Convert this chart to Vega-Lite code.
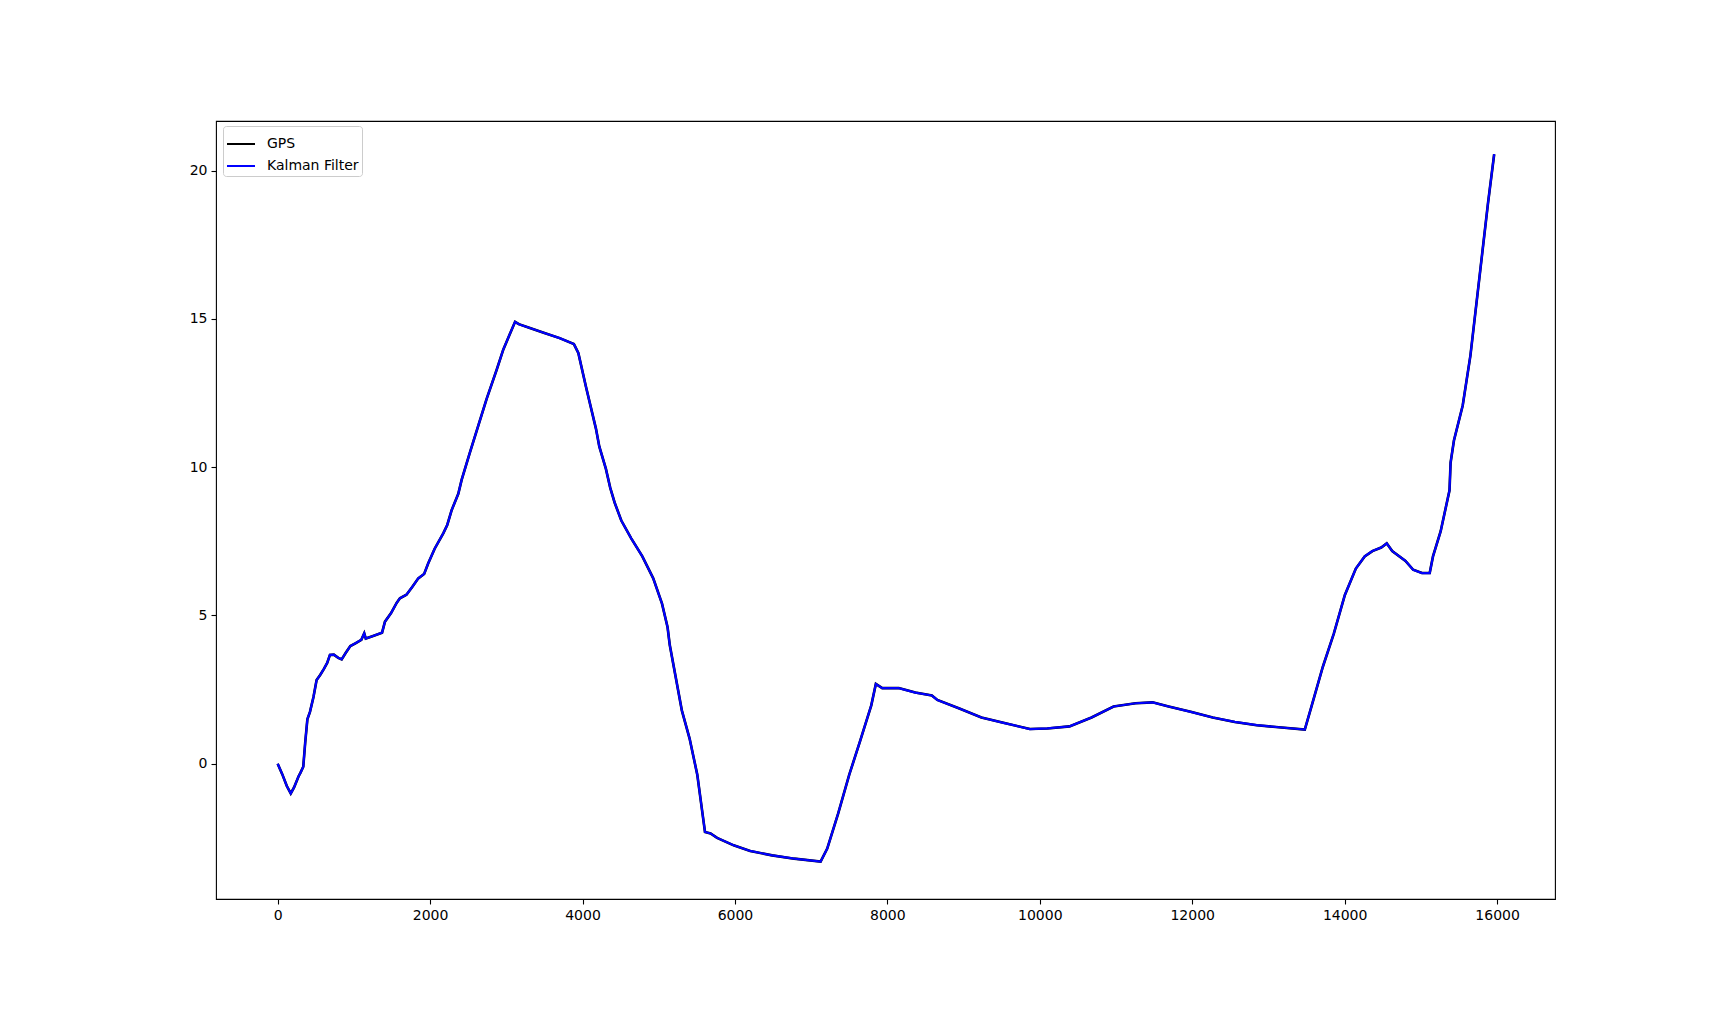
{
  "$schema": "https://vega.github.io/schema/vega-lite/v6.json",
  "width": 1339,
  "height": 778,
  "autosize": {"type": "none"},
  "padding": {"left": 216, "top": 121, "right": 173, "bottom": 111},
  "background": "white",
  "config": {
    "view": {"stroke": "black", "strokeWidth": 1.1},
    "font": "DejaVu Sans",
    "axis": {
      "domain": false,
      "grid": false,
      "tickColor": "black",
      "tickSize": 5,
      "tickWidth": 1.1,
      "labelFont": "DejaVu Sans",
      "labelFontSize": 14,
      "labelColor": "black",
      "labelPadding": 4,
      "title": null
    },
    "legend": {
      "orient": "none",
      "legendX": 7,
      "legendY": 5,
      "title": null,
      "symbolType": "stroke",
      "symbolSize": 784,
      "symbolStrokeWidth": 2,
      "labelFont": "DejaVu Sans",
      "labelFontSize": 14,
      "labelColor": "black",
      "labelOffset": 11,
      "strokeColor": "#cccccc",
      "fillColor": "white",
      "cornerRadius": 3,
      "padding": 3,
      "rowPadding": 0
    }
  },
  "datasets": {
    "track": [
      {"x": 0, "y": 0.0}, {"x": 60, "y": -0.35}, {"x": 120, "y": -0.75}, {"x": 172, "y": -1.0},
      {"x": 215, "y": -0.8}, {"x": 275, "y": -0.42}, {"x": 300, "y": -0.3}, {"x": 336, "y": -0.1},
      {"x": 361, "y": 0.7}, {"x": 390, "y": 1.5}, {"x": 424, "y": 1.75}, {"x": 470, "y": 2.25},
      {"x": 511, "y": 2.82}, {"x": 560, "y": 3.0}, {"x": 607, "y": 3.2}, {"x": 650, "y": 3.4},
      {"x": 686, "y": 3.67}, {"x": 737, "y": 3.68}, {"x": 795, "y": 3.57}, {"x": 840, "y": 3.52},
      {"x": 896, "y": 3.75}, {"x": 954, "y": 3.97}, {"x": 1026, "y": 4.07}, {"x": 1098, "y": 4.18},
      {"x": 1136, "y": 4.4}, {"x": 1156, "y": 4.22}, {"x": 1243, "y": 4.3}, {"x": 1370, "y": 4.42},
      {"x": 1408, "y": 4.79}, {"x": 1488, "y": 5.08}, {"x": 1561, "y": 5.42}, {"x": 1604, "y": 5.58},
      {"x": 1690, "y": 5.7}, {"x": 1763, "y": 5.95}, {"x": 1845, "y": 6.25}, {"x": 1922, "y": 6.4},
      {"x": 1976, "y": 6.76}, {"x": 2060, "y": 7.25}, {"x": 2173, "y": 7.77}, {"x": 2225, "y": 8.05},
      {"x": 2283, "y": 8.55}, {"x": 2370, "y": 9.1}, {"x": 2414, "y": 9.57}, {"x": 2523, "y": 10.5},
      {"x": 2742, "y": 12.3}, {"x": 2876, "y": 13.3}, {"x": 2960, "y": 13.96}, {"x": 3040, "y": 14.45},
      {"x": 3115, "y": 14.9}, {"x": 3165, "y": 14.82}, {"x": 3300, "y": 14.7}, {"x": 3500, "y": 14.52},
      {"x": 3700, "y": 14.35}, {"x": 3887, "y": 14.15}, {"x": 3945, "y": 13.85}, {"x": 4046, "y": 12.7},
      {"x": 4176, "y": 11.3}, {"x": 4220, "y": 10.7}, {"x": 4306, "y": 9.95}, {"x": 4364, "y": 9.3},
      {"x": 4422, "y": 8.8}, {"x": 4509, "y": 8.2}, {"x": 4639, "y": 7.6}, {"x": 4783, "y": 7.0},
      {"x": 4928, "y": 6.25}, {"x": 5043, "y": 5.4}, {"x": 5116, "y": 4.6}, {"x": 5145, "y": 4.0},
      {"x": 5217, "y": 3.0}, {"x": 5303, "y": 1.8}, {"x": 5405, "y": 0.85}, {"x": 5506, "y": -0.37},
      {"x": 5578, "y": -1.75}, {"x": 5607, "y": -2.3}, {"x": 5680, "y": -2.35}, {"x": 5766, "y": -2.5},
      {"x": 5983, "y": -2.75}, {"x": 6200, "y": -2.94}, {"x": 6488, "y": -3.09}, {"x": 6777, "y": -3.2},
      {"x": 7124, "y": -3.3}, {"x": 7211, "y": -2.86}, {"x": 7355, "y": -1.67}, {"x": 7500, "y": -0.37},
      {"x": 7644, "y": 0.78}, {"x": 7789, "y": 1.97}, {"x": 7849, "y": 2.69}, {"x": 7933, "y": 2.55},
      {"x": 8150, "y": 2.55}, {"x": 8367, "y": 2.4}, {"x": 8584, "y": 2.3}, {"x": 8656, "y": 2.15},
      {"x": 8945, "y": 1.86}, {"x": 9234, "y": 1.56}, {"x": 9523, "y": 1.38}, {"x": 9870, "y": 1.17},
      {"x": 10100, "y": 1.19}, {"x": 10390, "y": 1.26}, {"x": 10679, "y": 1.56}, {"x": 10968, "y": 1.93},
      {"x": 11257, "y": 2.04}, {"x": 11480, "y": 2.07}, {"x": 11690, "y": 1.93}, {"x": 11980, "y": 1.75},
      {"x": 12269, "y": 1.56}, {"x": 12558, "y": 1.41}, {"x": 12847, "y": 1.3}, {"x": 13136, "y": 1.23},
      {"x": 13477, "y": 1.15}, {"x": 13569, "y": 1.97}, {"x": 13714, "y": 3.27}, {"x": 13858, "y": 4.39},
      {"x": 14003, "y": 5.69}, {"x": 14147, "y": 6.58}, {"x": 14263, "y": 6.99}, {"x": 14364, "y": 7.17},
      {"x": 14480, "y": 7.29}, {"x": 14552, "y": 7.43}, {"x": 14624, "y": 7.17}, {"x": 14798, "y": 6.84},
      {"x": 14899, "y": 6.54}, {"x": 15014, "y": 6.43}, {"x": 15116, "y": 6.43}, {"x": 15159, "y": 6.99},
      {"x": 15260, "y": 7.84}, {"x": 15376, "y": 9.22}, {"x": 15390, "y": 10.15}, {"x": 15434, "y": 10.9},
      {"x": 15549, "y": 12.08}, {"x": 15650, "y": 13.76}, {"x": 15780, "y": 16.65}, {"x": 15881, "y": 18.9},
      {"x": 15962, "y": 20.55}
    ]
  },
  "data": {"name": "track"},
  "encoding": {
    "x": {
      "field": "x",
      "type": "quantitative",
      "scale": {"domain": [-809, 16760], "nice": false, "zero": false},
      "axis": {"values": [0, 2000, 4000, 6000, 8000, 10000, 12000, 14000, 16000], "format": "d"}
    },
    "y": {
      "field": "y",
      "type": "quantitative",
      "scale": {"domain": [-4.56, 21.67], "nice": false, "zero": false},
      "axis": {"values": [0, 5, 10, 15, 20], "format": "d"}
    }
  },
  "layer": [
    {
      "mark": {"type": "line", "strokeWidth": 2.6},
      "encoding": {
        "color": {
          "datum": "GPS",
          "type": "nominal",
          "scale": {"domain": ["GPS", "Kalman Filter"], "range": ["black", "blue"]}
        }
      }
    },
    {
      "mark": {"type": "line", "strokeWidth": 2.2},
      "encoding": {
        "color": {
          "datum": "Kalman Filter",
          "type": "nominal"
        }
      }
    }
  ]
}
